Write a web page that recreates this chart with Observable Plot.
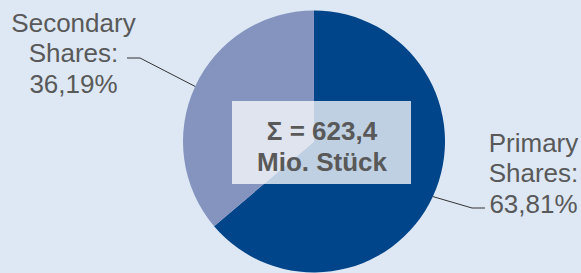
<!DOCTYPE html>
<html><head><meta charset="utf-8">
<script src="https://cdn.jsdelivr.net/npm/d3@7"></script>
<script src="https://cdn.jsdelivr.net/npm/@observablehq/plot@0.6"></script>
<style>html,body{margin:0;padding:0;background:#dde8f4;}</style>
</head><body><div id="chart"></div>
<script>
// ---- data ----
const categories = ["Primary Shares", "Secondary Shares"];
const shares = [63.81, 36.19];
const labelTexts = ["Primary\nShares:\n63,81%", "Secondary\nShares:\n36,19%"];
const totalLabel = "Σ = 623,4\nMio. Stück";
const colors = ["#00448a", "#8594be"];

// ---- layout ----
const W = 581, H = 273;
const cx = 314, cy = 141.5, R = 131;
const labelLayout = [
  {dx: 533, dy: 129.8, elbow: [472, 208], end: [485, 208]},
  {dx: 73, dy: 9.8, elbow: [140, 58], end: [127, 58]}
];
const textColor = "#595959";
const font = "'Liberation Sans', Arial, sans-serif";

const table = categories.map((c, i) => ({category: c, value: shares[i], label: labelTexts[i]}));
const color = Plot.scale({color: {type: "ordinal", domain: categories, range: colors}});
const arcs = d3.pie().sort(null).value(d => d.value)(table);
const arcGen = d3.arc().innerRadius(0).outerRadius(R);

function pieMark() {
  const g = d3.create("svg:g");
  const p = g.append("g").attr("transform", `translate(${cx},${cy})`);
  p.selectAll("path").data(arcs).join("path")
    .attr("d", arcGen)
    .attr("fill", d => color.apply(d.data.category));
  // leader lines from slice mid-angle on the rim
  arcs.forEach((a, i) => {
    const m = (a.startAngle + a.endAngle) / 2;
    const rx = cx + Math.sin(m) * R, ry = cy - Math.cos(m) * R;
    const L = labelLayout[i];
    g.append("polyline")
      .attr("points", [[rx, ry], L.elbow, L.end].map(q => q.join(",")).join(" "))
      .attr("fill", "none").attr("stroke", "#333333").attr("stroke-width", 1);
  });
  // center box
  g.append("rect").attr("x", 232).attr("y", 101).attr("width", 179).attr("height", 83)
    .attr("fill", "#ffffff").attr("fill-opacity", 0.75);
  return g.node();
}

const chart = Plot.plot({
  width: W, height: H,
  margin: 0,
  style: {background: "#dde8f4", fontFamily: font, overflow: "visible"},
  marks: [
    pieMark,
    ...table.map((d, i) => Plot.text([d], {
      text: "label", frameAnchor: "top-left", dx: labelLayout[i].dx, dy: labelLayout[i].dy,
      textAnchor: "middle", lineAnchor: "top", lineHeight: 1.173,
      fontSize: 26, fill: textColor, fontFamily: font
    })),
    Plot.text([totalLabel], {
      text: d => d, frameAnchor: "top-left", dx: 321.5, dy: 118.5,
      textAnchor: "middle", lineAnchor: "top", lineHeight: 1.16,
      fontSize: 26, fontWeight: "bold", fill: textColor, fontFamily: font
    })
  ]
});
document.getElementById("chart").append(chart);
</script>
</body></html>
